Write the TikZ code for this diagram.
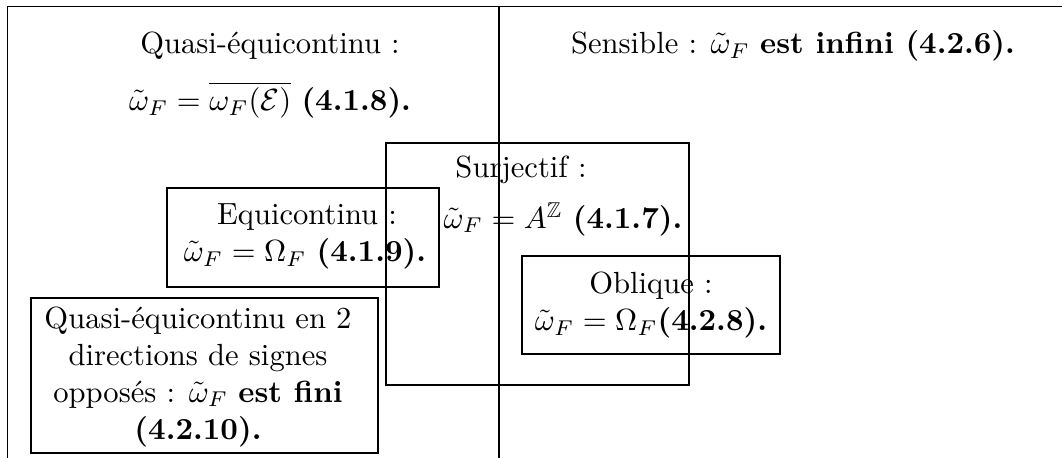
\documentclass[tikz,border=0pt]{standalone}
\usepackage{amssymb}
\usetikzlibrary{fit}
\begin{document}
\begin{tikzpicture}[x=0.3268pt,y=-0.3268pt,
  box/.style={draw,line width=0.4pt,inner sep=0pt},
  txt/.style={inner sep=0pt,anchor=center},
  frame/.style={line width=0.4pt}]
\useasboundingbox (0,0) rectangle (1062,458);
% frame
\coordinate (bl) at (7.5,458);
\coordinate (tl) at (7.5,6.5);
\coordinate (tr) at (1062,6.5);
\coordinate (dt) at (499,6.5);
\coordinate (db) at (499,458);
\draw[frame] (bl) -- (tl) -- (tr);
\draw[frame] (dt) -- (db);
% top texts
\node[txt] (qe1) at (270,46) {Quasi-équicontinu :};
\node[txt] (qe2) at (270,100) {$\tilde\omega_F=\overline{\omega_F(\mathcal{E})}$ \textbf{(4.1.8).}};
\node[txt] (sens) at (793,46) {Sensible : $\tilde\omega_F$ \textbf{est infini (4.2.6).}};
% boxes
\node[box,fit={(386,143) (689,385)}] (surj) {};
\node[box,fit={(167,188) (439,287)}] (equi) {};
\node[box,fit={(31,298) (378,453)}] (qe2d) {};
\node[box,fit={(522,256) (780,354)}] (obl) {};
% texts in boxes
\node[txt] (surjt1) at (521,170) {Surjectif :};
\node[txt] (surjt2) at (563,219) {$\tilde\omega_F=A^{\mathbb{Z}}$ \textbf{(4.1.7).}};
\node[txt] (equit1) at (307,217) {Equicontinu :};
\node[txt] (equit2) at (305,254) {$\tilde\omega_F=\Omega_F$ \textbf{(4.1.9).}};
\node[txt] (oblt1) at (651,286) {Oblique :};
\node[txt] (oblt2) at (651,323) {$\tilde\omega_F=\Omega_F$\textbf{(4.2.8).}};
\node[txt,align=center] (qe2t) at (198,377) {Quasi-équicontinu en 2\\directions de signes\\opposés : $\tilde\omega_F$ \textbf{est fini}\\\textbf{(4.2.10).}};
\end{tikzpicture}
\end{document}
